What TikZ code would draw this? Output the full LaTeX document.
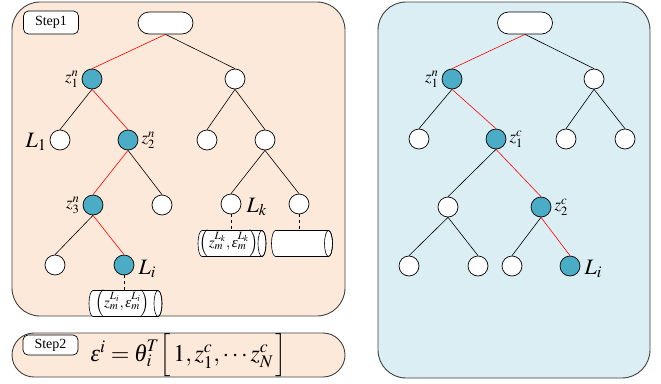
\documentclass[tikz,border=0pt]{standalone}
\usepackage{amsmath}
\usepackage{mathptmx}
\usepackage{fontspec}
\setmainfont{Liberation Serif}
\usetikzlibrary{calc,positioning}
\newcommand{\geps}{\mathord{\text{\itshape ε}}}
\newcommand{\gtheta}{\mathord{\text{\itshape θ}}}
\definecolor{peach}{HTML}{FDE9D9}
\definecolor{ltblue}{HTML}{DAEEF3}
\definecolor{nodeblue}{HTML}{4BACC6}
\definecolor{border}{HTML}{404040}
\tikzset{
  panel/.style={draw=border, line width=0.9pt, rounded corners=28pt},
  nd/.style={circle, draw=black, line width=0.7pt, minimum size=20pt, inner sep=0pt, fill=white},
  hl/.style={nd, fill=nodeblue},
  rootnd/.style={draw=black, line width=0.7pt, fill=white, rounded corners=11pt, minimum width=55pt, minimum height=22pt, inner sep=0pt},
  edge/.style={line width=0.6pt, black},
  redge/.style={line width=0.6pt, red},
  stepbox/.style={draw=black, line width=0.7pt, rounded corners=5pt, fill=white, minimum width=55pt, inner sep=0pt, font=\fontsize{14}{16}\selectfont},
  zlab/.style={font=\fontsize{17}{20}\selectfont, inner sep=1pt},
  llab/.style={font=\fontsize{22}{24}\selectfont, inner sep=1pt},
  cylbox/.style={minimum height=26pt, inner sep=0pt, font=\fontsize{15}{17}\selectfont},
}
% name, x, y, width, text
\newcommand{\cyl}[5]{%
  \draw[line width=0.6pt, fill=white] ({#2-#4/2+4},{#3-13}) -- ({#2+#4/2-4},{#3-13})
    arc[start angle=90, end angle=-90, x radius=4pt, y radius=13pt]
    -- ({#2-#4/2+4},{#3+13})
    arc[start angle=270, end angle=90, x radius=4pt, y radius=13pt] -- cycle;
  \draw[line width=0.6pt] ({#2+#4/2-4},#3) ellipse[x radius=4pt, y radius=13pt];
  \node[cylbox, minimum width=#4pt] (#1) at (#2,#3) {#5\hspace*{6pt}};}
\begin{document}
\begin{tikzpicture}[x=1pt, y=-1pt]
\useasboundingbox (0,0) rectangle (661,383);
\fill[white] (0,0) rectangle (661,383);
% panels
\draw[panel, fill=peach] (12,2) rectangle (345,316);
\draw[panel, fill=ltblue] (378,2) rectangle (650,378);
\draw[draw=border, line width=0.9pt, fill=peach, rounded corners=22pt] (12,333) rectangle (345,377);
\node[stepbox, minimum height=23pt] (s1) at (51,22.5) {Step1};
\node[stepbox, minimum height=20pt] (s2) at (50.5,345) {Step2};
\node[font=\fontsize{24}{28}\selectfont, inner sep=1pt] (f) at (189,355) {$\geps^{i}=\gtheta_i^T\Big[\,1,z_1^c,\cdots z_N^c\,\Big]$};
% left tree
\node[rootnd] (A) at (165.5,23) {};
\node[hl] (a1) at (92,79) {};
\node[nd] (a2) at (235,79) {};
\node[nd] (a11) at (60,140) {};
\node[hl] (a12) at (128,140) {};
\node[nd] (a21) at (207,140) {};
\node[nd] (a22) at (265,140) {};
\node[hl] (a121) at (93,205) {};
\node[nd] (a122) at (162,205) {};
\node[nd] (a221) at (231,204) {};
\node[nd] (a222) at (299,204) {};
\node[nd] (a1211) at (55,265) {};
\node[hl] (a1212) at (124,265) {};
\draw[redge] (A.south) -- (a1.north);
\draw[edge] (A.south) -- (a2.north);
\draw[edge] (a1.south) -- (a11.north);
\draw[redge] (a1.south) -- (a12.north);
\draw[edge] (a2.south) -- (a21.north);
\draw[edge] (a2.south) -- (a22.north);
\draw[redge] (a12.south) -- (a121.north);
\draw[edge] (a12.south) -- (a122.north);
\draw[edge] (a22.south) -- (a221.north);
\draw[edge] (a22.south) -- (a222.north);
\draw[edge] (a121.south) -- (a1211.north);
\draw[redge] (a121.south) -- (a1212.north);
% labels left
\node[zlab, left=2pt of a1] {$z_1^n$};
\node[llab, left=2pt of a11, yshift=-2pt] {$L_1$};
\node[zlab, right=2pt of a12] {$z_2^n$};
\node[zlab, left=2pt of a121] {$z_3^n$};
\node[llab, right=4pt of a221, yshift=-3pt] {$L_k$};
\node[llab, right=3pt of a1212, yshift=-4pt] {$L_i$};
% cylinders
\cyl{c1}{125.5}{303.5}{73}{$\left(z_m^{L_i},\geps_m^{L_i}\right)$}
\cyl{c2}{232}{243.5}{68}{$\left(z_m^{L_k},\geps_m^{L_k}\right)$}
\cyl{c3}{302}{243.5}{61}{}
\draw[dashed, line width=0.6pt] (a1212.south) -- (a1212.south |- c1.north);
\draw[dashed, line width=0.6pt] (a221.south) -- (a221.south |- c2.north);
\draw[dashed, line width=0.6pt] (a222.south) -- (a222.south |- c3.north);
% right tree
\node[rootnd] (B) at (525,23) {};
\node[hl] (b1) at (452,79) {};
\node[nd] (b2) at (594,79) {};
\node[nd] (b11) at (419,139) {};
\node[hl] (b12) at (496,139) {};
\node[nd] (b21) at (566,139) {};
\node[nd] (b22) at (625,139) {};
\node[nd] (b121) at (448,207) {};
\node[hl] (b122) at (541,207) {};
\node[nd] (b1211) at (409,266) {};
\node[nd] (b1212) at (478,266) {};
\node[nd] (b1221) at (512,266) {};
\node[hl] (b1222) at (570,266) {};
\draw[redge] (B.south) -- (b1.north);
\draw[edge] (B.south) -- (b2.north);
\draw[edge] (b1.south) -- (b11.north);
\draw[redge] (b1.south) -- (b12.north);
\draw[edge] (b2.south) -- (b21.north);
\draw[edge] (b2.south) -- (b22.north);
\draw[edge] (b12.south) -- (b121.north);
\draw[redge] (b12.south) -- (b122.north);
\draw[edge] (b121.south) -- (b1211.north);
\draw[edge] (b121.south) -- (b1212.north);
\draw[edge] (b122.south) -- (b1221.north);
\draw[redge] (b122.south) -- (b1222.north);
\node[zlab, left=2pt of b1] {$z_1^n$};
\node[zlab, right=2pt of b12] {$z_1^c$};
\node[zlab, right=2pt of b122] {$z_2^c$};
\node[llab, right=3pt of b1222, yshift=-3pt] {$L_i$};
\end{tikzpicture}
\end{document}
